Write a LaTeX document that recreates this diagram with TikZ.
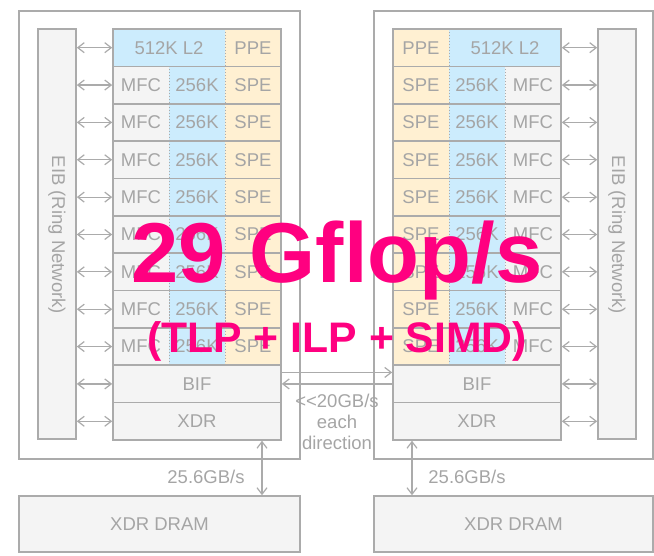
\documentclass[tikz,border=0pt]{standalone}
\usepackage{fontspec}
\setmainfont{Liberation Sans}
\usetikzlibrary{arrows.meta}
\definecolor{ln}{HTML}{ABABAB}
\definecolor{tx}{HTML}{A5A5A5}
\definecolor{bx}{HTML}{F4F4F4}
\definecolor{bl}{HTML}{CCECFD}
\definecolor{cr}{HTML}{FFF0D2}
\definecolor{mg}{HTML}{FF0080}
\begin{document}
\begin{tikzpicture}[x=1pt,y=-1pt,
  txt/.style={text=tx, font=\fontsize{18.5}{21}\selectfont},
  cell/.style={txt, minimum width=56pt, minimum height=37.36pt, inner sep=0pt},
  rowbox/.style={draw=ln, line width=1.6pt, minimum width=168pt, minimum height=37.36pt, inner sep=0pt},
  chipbox/.style={draw=ln, line width=1.6pt, fill=white, inner sep=0pt},
  greybox/.style={draw=ln, line width=1.6pt, fill=bx, inner sep=0pt, txt},
  dotline/.style={draw=ln, line width=1pt, dash pattern=on 1.2pt off 1.8pt},
  dbl/.style={draw=ln, line width=1.2pt, {Straight Barb[length=6.5pt,width=10pt]}-{Straight Barb[length=6.5pt,width=10pt]}},
  sgl/.style={draw=ln, line width=1.2pt, -{Straight Barb[length=6.5pt,width=10pt]}},
  big/.style={anchor=base, text=mg, inner sep=0pt}
]
\useasboundingbox (0,0) rectangle (654,555);
\def\rh{37.36}
% chip outlines
\node[chipbox, minimum width=281pt, minimum height=448pt] (Lchip) at (159.5,235) {};
\node[chipbox, minimum width=279pt, minimum height=448pt] (Rchip) at (513.5,235) {};
% EIBs
\node[greybox, minimum width=38pt, minimum height=410pt] (LEIB) at (57,234) {};
\node[txt, rotate=-90] (LEIBt) at (57,235) {EIB (Ring Network)};
\node[greybox, minimum width=38pt, minimum height=410pt] (REIB) at (617,234) {};
\node[txt, rotate=-90] (REIBt) at (617,235) {EIB (Ring Network)};
% row 0
\pgfmathsetmacro{\y}{29+\rh*0.5}
\node[cell, fill=bl, minimum width=112pt] (LL2) at (169,\y) {512K L2};
\node[cell, fill=cr] (LPPE) at (253,\y) {PPE};
\node[rowbox] (Lr0) at (197,\y) {};
\draw[dotline] (LL2.north east) -- (LL2.south east);
\node[cell, fill=cr] (RPPE) at (421,\y) {PPE};
\node[cell, fill=bl, minimum width=112pt] (RL2) at (505,\y) {512K L2};
\node[rowbox] (Rr0) at (477,\y) {};
\draw[dotline] (RPPE.north east) -- (RPPE.south east);
% SPE rows
\foreach \i in {1,...,8}{
  \pgfmathsetmacro{\y}{29+\rh*(\i+0.5)}
  \node[cell, fill=bx] (LM\i) at (141,\y) {MFC};
  \node[cell, fill=bl] (LK\i) at (197,\y) {256K};
  \node[cell, fill=cr] (LS\i) at (253,\y) {SPE};
  \node[rowbox] (Lr\i) at (197,\y) {};
  \draw[dotline] (LM\i.north east) -- (LM\i.south east);
  \draw[dotline] (LK\i.north east) -- (LK\i.south east);
  \node[cell, fill=cr] (RS\i) at (421,\y) {SPE};
  \node[cell, fill=bl] (RK\i) at (477,\y) {256K};
  \node[cell, fill=bx] (RM\i) at (533,\y) {MFC};
  \node[rowbox] (Rr\i) at (477,\y) {};
  \draw[dotline] (RS\i.north east) -- (RS\i.south east);
  \draw[dotline] (RK\i.north east) -- (RK\i.south east);
}
% BIF and XDR rows
\pgfmathsetmacro{\y}{29+\rh*9.5}
\node[rowbox, fill=bx, txt] (Lr9) at (197,\y) {BIF};
\node[rowbox, fill=bx, txt] (Rr9) at (477,\y) {BIF};
\pgfmathsetmacro{\y}{29+\rh*10.5}
\node[rowbox, fill=bx, txt] (Lr10) at (197,\y) {XDR};
\node[rowbox, fill=bx, txt] (Rr10) at (477,\y) {XDR};
% EIB arrows
\foreach \i in {0,...,10}{
  \draw[dbl] (LEIB.east |- Lr\i.west) -- (Lr\i.west);
  \draw[dbl] (Rr\i.east) -- (REIB.west |- Rr\i.east);
}
% BIF link
\draw[sgl] ([yshift=11.5pt]Lr9.east) -- ([yshift=11.5pt]Rr9.west);
\draw[sgl] (Rr9.west) -- (Lr9.east);
\node[txt, align=center, inner sep=0pt] (bw) at (337,422) {<\kern0pt<20GB/s\\each\\direction};
% DRAM
\node[greybox, minimum width=281pt, minimum height=56pt] (LD) at (159.5,524) {XDR DRAM};
\node[greybox, minimum width=279pt, minimum height=56pt] (RD) at (513.5,524) {XDR DRAM};
\coordinate (la) at (262,470);
\coordinate (ra) at (412,470);
\draw[dbl] (Lr10.south -| la) -- (LD.north -| la);
\draw[dbl] (Rr10.south -| ra) -- (RD.north -| ra);
\node[txt] (lbwl) at (206,477) {25.6GB/s};
\node[txt] (lbwr) at (467,477) {25.6GB/s};
% big text
\node[big, font=\bfseries\fontsize{85}{85}\selectfont] (gf) at (337,282) {29 Gflop/s};
\node[big, font=\bfseries\fontsize{42.7}{43}\selectfont] (par) at (337,352) {(TLP + ILP + SIMD)};
\end{tikzpicture}
\end{document}
